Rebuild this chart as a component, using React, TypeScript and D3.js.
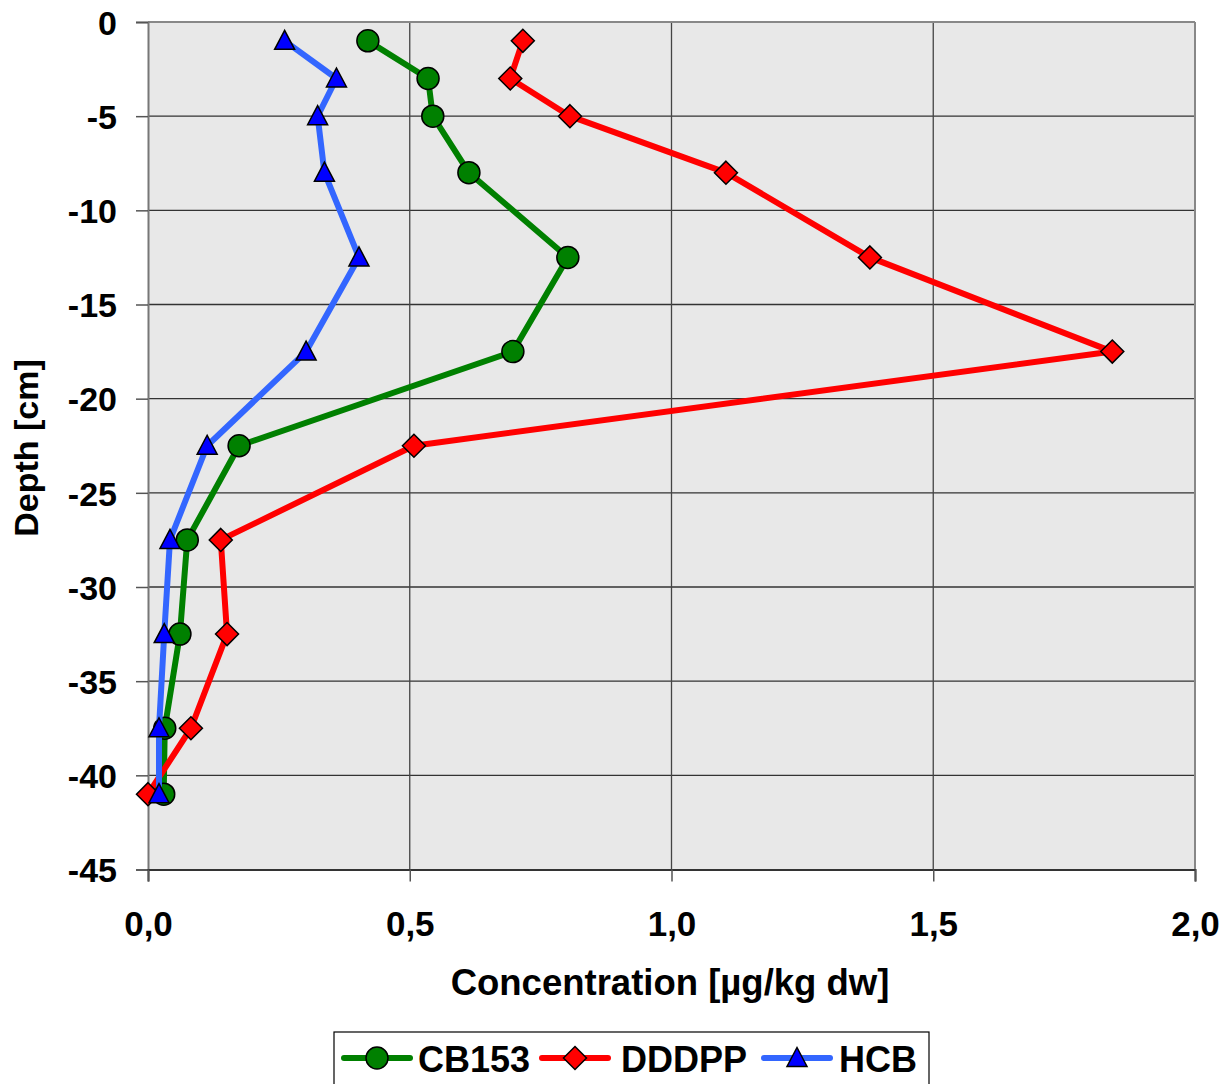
import React, { useEffect, useRef } from 'react';
import * as d3 from 'd3';

const depths = [-1, -3, -5, -8, -12.5, -17.5, -22.5, -27.5, -32.5, -37.5, -41];
const cb153 = [0.42, 0.535, 0.544, 0.613, 0.802, 0.697, 0.174, 0.075, 0.061, 0.032, 0.03];
const dddpp = [0.716, 0.692, 0.806, 1.104, 1.379, 1.842, 0.508, 0.139, 0.151, 0.082, 0.0];
const hcb = [0.261, 0.36, 0.324, 0.337, 0.403, 0.302, 0.113, 0.042, 0.031, 0.021, 0.021];
const xTicks = [0, 0.5, 1.0, 1.5, 2.0];
const yTicks = [0, -5, -10, -15, -20, -25, -30, -35, -40, -45];

const seriesList = [
  { name: 'CB153', values: cb153, line: '#008000', fill: '#008000', shape: 'circle' },
  { name: 'DDDPP', values: dddpp, line: '#FF0000', fill: '#FF0000', shape: 'diamond' },
  { name: 'HCB', values: hcb, line: '#3366FF', fill: '#0000FF', shape: 'triangle' },
];

const FONT = '"Liberation Sans", Arial, sans-serif';

function drawMarker(g: any, shape: string, cx: number, cy: number, fill: string) {
  if (shape === 'circle') {
    g.append('circle').attr('cx', cx).attr('cy', cy).attr('r', 11)
      .attr('fill', fill).attr('stroke', '#000').attr('stroke-width', 1.5);
  } else if (shape === 'diamond') {
    const s = 11.5;
    g.append('path').attr('d', `M${cx},${cy - s}L${cx + s},${cy}L${cx},${cy + s}L${cx - s},${cy}Z`)
      .attr('fill', fill).attr('stroke', '#000').attr('stroke-width', 1.5);
  } else {
    g.append('path').attr('d', `M${cx},${cy - 10.5}L${cx + 10},${cy + 8.5}L${cx - 10},${cy + 8.5}Z`)
      .attr('fill', fill).attr('stroke', '#000').attr('stroke-width', 1.5);
  }
}

const App = () => {
  const ref = useRef<SVGSVGElement>(null);

  useEffect(() => {
    const svg = d3.select(ref.current);
    svg.selectAll('*').remove();

    const left = 148, right = 1195, top = 22, bottom = 869.5;

    const x = d3.scaleLinear().domain([0, 2]).range([left, right]);
    const y = d3.scaleLinear().domain([0, -45]).range([top, bottom]);

    svg.append('rect').attr('x', left).attr('y', top)
      .attr('width', right - left).attr('height', bottom - top).attr('fill', '#E8E8E8');

    // grid
    svg.append('g').selectAll('line').data(yTicks.slice(1, -1)).enter().append('line')
      .attr('x1', left).attr('x2', right).attr('y1', d => y(d)).attr('y2', d => y(d))
      .attr('stroke', '#333').attr('stroke-width', 1.3);
    svg.append('g').selectAll('line').data(xTicks.slice(1, -1)).enter().append('line')
      .attr('x1', d => x(d)).attr('x2', d => x(d)).attr('y1', top).attr('y2', bottom)
      .attr('stroke', '#444').attr('stroke-width', 1.3);

    // frame
    svg.append('line').attr('x1', left).attr('x2', right).attr('y1', top).attr('y2', top)
      .attr('stroke', '#888').attr('stroke-width', 2);
    svg.append('line').attr('x1', right).attr('x2', right).attr('y1', top).attr('y2', bottom)
      .attr('stroke', '#888').attr('stroke-width', 2);

    // axes
    const yAxis = d3.axisLeft(y).tickValues(yTicks).tickSize(12).tickFormat(d => String(d));
    const gy = svg.append('g').attr('transform', `translate(${left},0)`).call(yAxis);
    gy.select('.domain').attr('stroke', '#777').attr('stroke-width', 2);
    gy.selectAll('.tick line').attr('stroke', '#555').attr('stroke-width', 1.5);
    gy.selectAll('.tick text').attr('x', -31).attr('dy', '0.36em')
      .attr('font-family', FONT).attr('font-weight', 'bold').attr('font-size', 34).attr('fill', '#000');

    const xAxis = d3.axisBottom(x).tickValues(xTicks).tickSize(12)
      .tickFormat(d => d3.format('.1f')(d as number).replace('.', ','));
    const gx = svg.append('g').attr('transform', `translate(0,${bottom})`).call(xAxis);
    gx.select('.domain').attr('stroke', '#333').attr('stroke-width', 2);
    gx.selectAll('.tick line').attr('stroke', '#555').attr('stroke-width', 1.5);
    gx.selectAll('.tick text').attr('y', 42).attr('dy', '0.71em')
      .attr('font-family', FONT).attr('font-weight', 'bold').attr('font-size', 35).attr('fill', '#000');

    // titles
    svg.append('text').attr('x', 670).attr('y', 995).attr('text-anchor', 'middle')
      .attr('font-family', FONT).attr('font-weight', 'bold').attr('font-size', 36.5)
      .text('Concentration [µg/kg dw]');
    svg.append('text').attr('transform', 'translate(38,448) rotate(-90)').attr('text-anchor', 'middle')
      .attr('font-family', FONT).attr('font-weight', 'bold').attr('font-size', 34)
      .text('Depth [cm]');

    // series
    const line = d3.line<number>().x(d => x(d)).y((d, i) => y(depths[i]));
    seriesList.forEach(s => {
      const g = svg.append('g');
      g.append('path').datum(s.values).attr('d', line).attr('fill', 'none')
        .attr('stroke', s.line).attr('stroke-width', 6).attr('stroke-linejoin', 'round');
      s.values.forEach((v, i) => drawMarker(g, s.shape, x(v), y(depths[i]), s.fill));
    });

    // legend
    const lg = svg.append('g');
    lg.append('rect').attr('x', 334).attr('y', 1032).attr('width', 595).attr('height', 60)
      .attr('fill', '#fff').attr('stroke', '#000').attr('stroke-width', 1.2);
    const items = [
      { s: seriesList[0], x0: 344, tx: 418 },
      { s: seriesList[1], x0: 542, tx: 621 },
      { s: seriesList[2], x0: 764, tx: 839 },
    ];
    items.forEach(it => {
      const cy = 1058;
      lg.append('line').attr('x1', it.x0).attr('x2', it.x0 + 66).attr('y1', cy).attr('y2', cy)
        .attr('stroke', it.s.line).attr('stroke-width', 6).attr('stroke-linecap', 'round');
      drawMarker(lg, it.s.shape, it.x0 + 33, cy, it.s.fill);
      lg.append('text').attr('x', it.tx).attr('y', cy + 14)
        .attr('font-family', FONT).attr('font-weight', 'bold').attr('font-size', 36)
        .text(it.s.name);
    });
  }, []);

  return (
    <svg ref={ref} width={1223} height={1084}
      style={{ position: 'absolute', left: 0, top: 0, background: '#fff' }}></svg>
  );
};

export default App;
